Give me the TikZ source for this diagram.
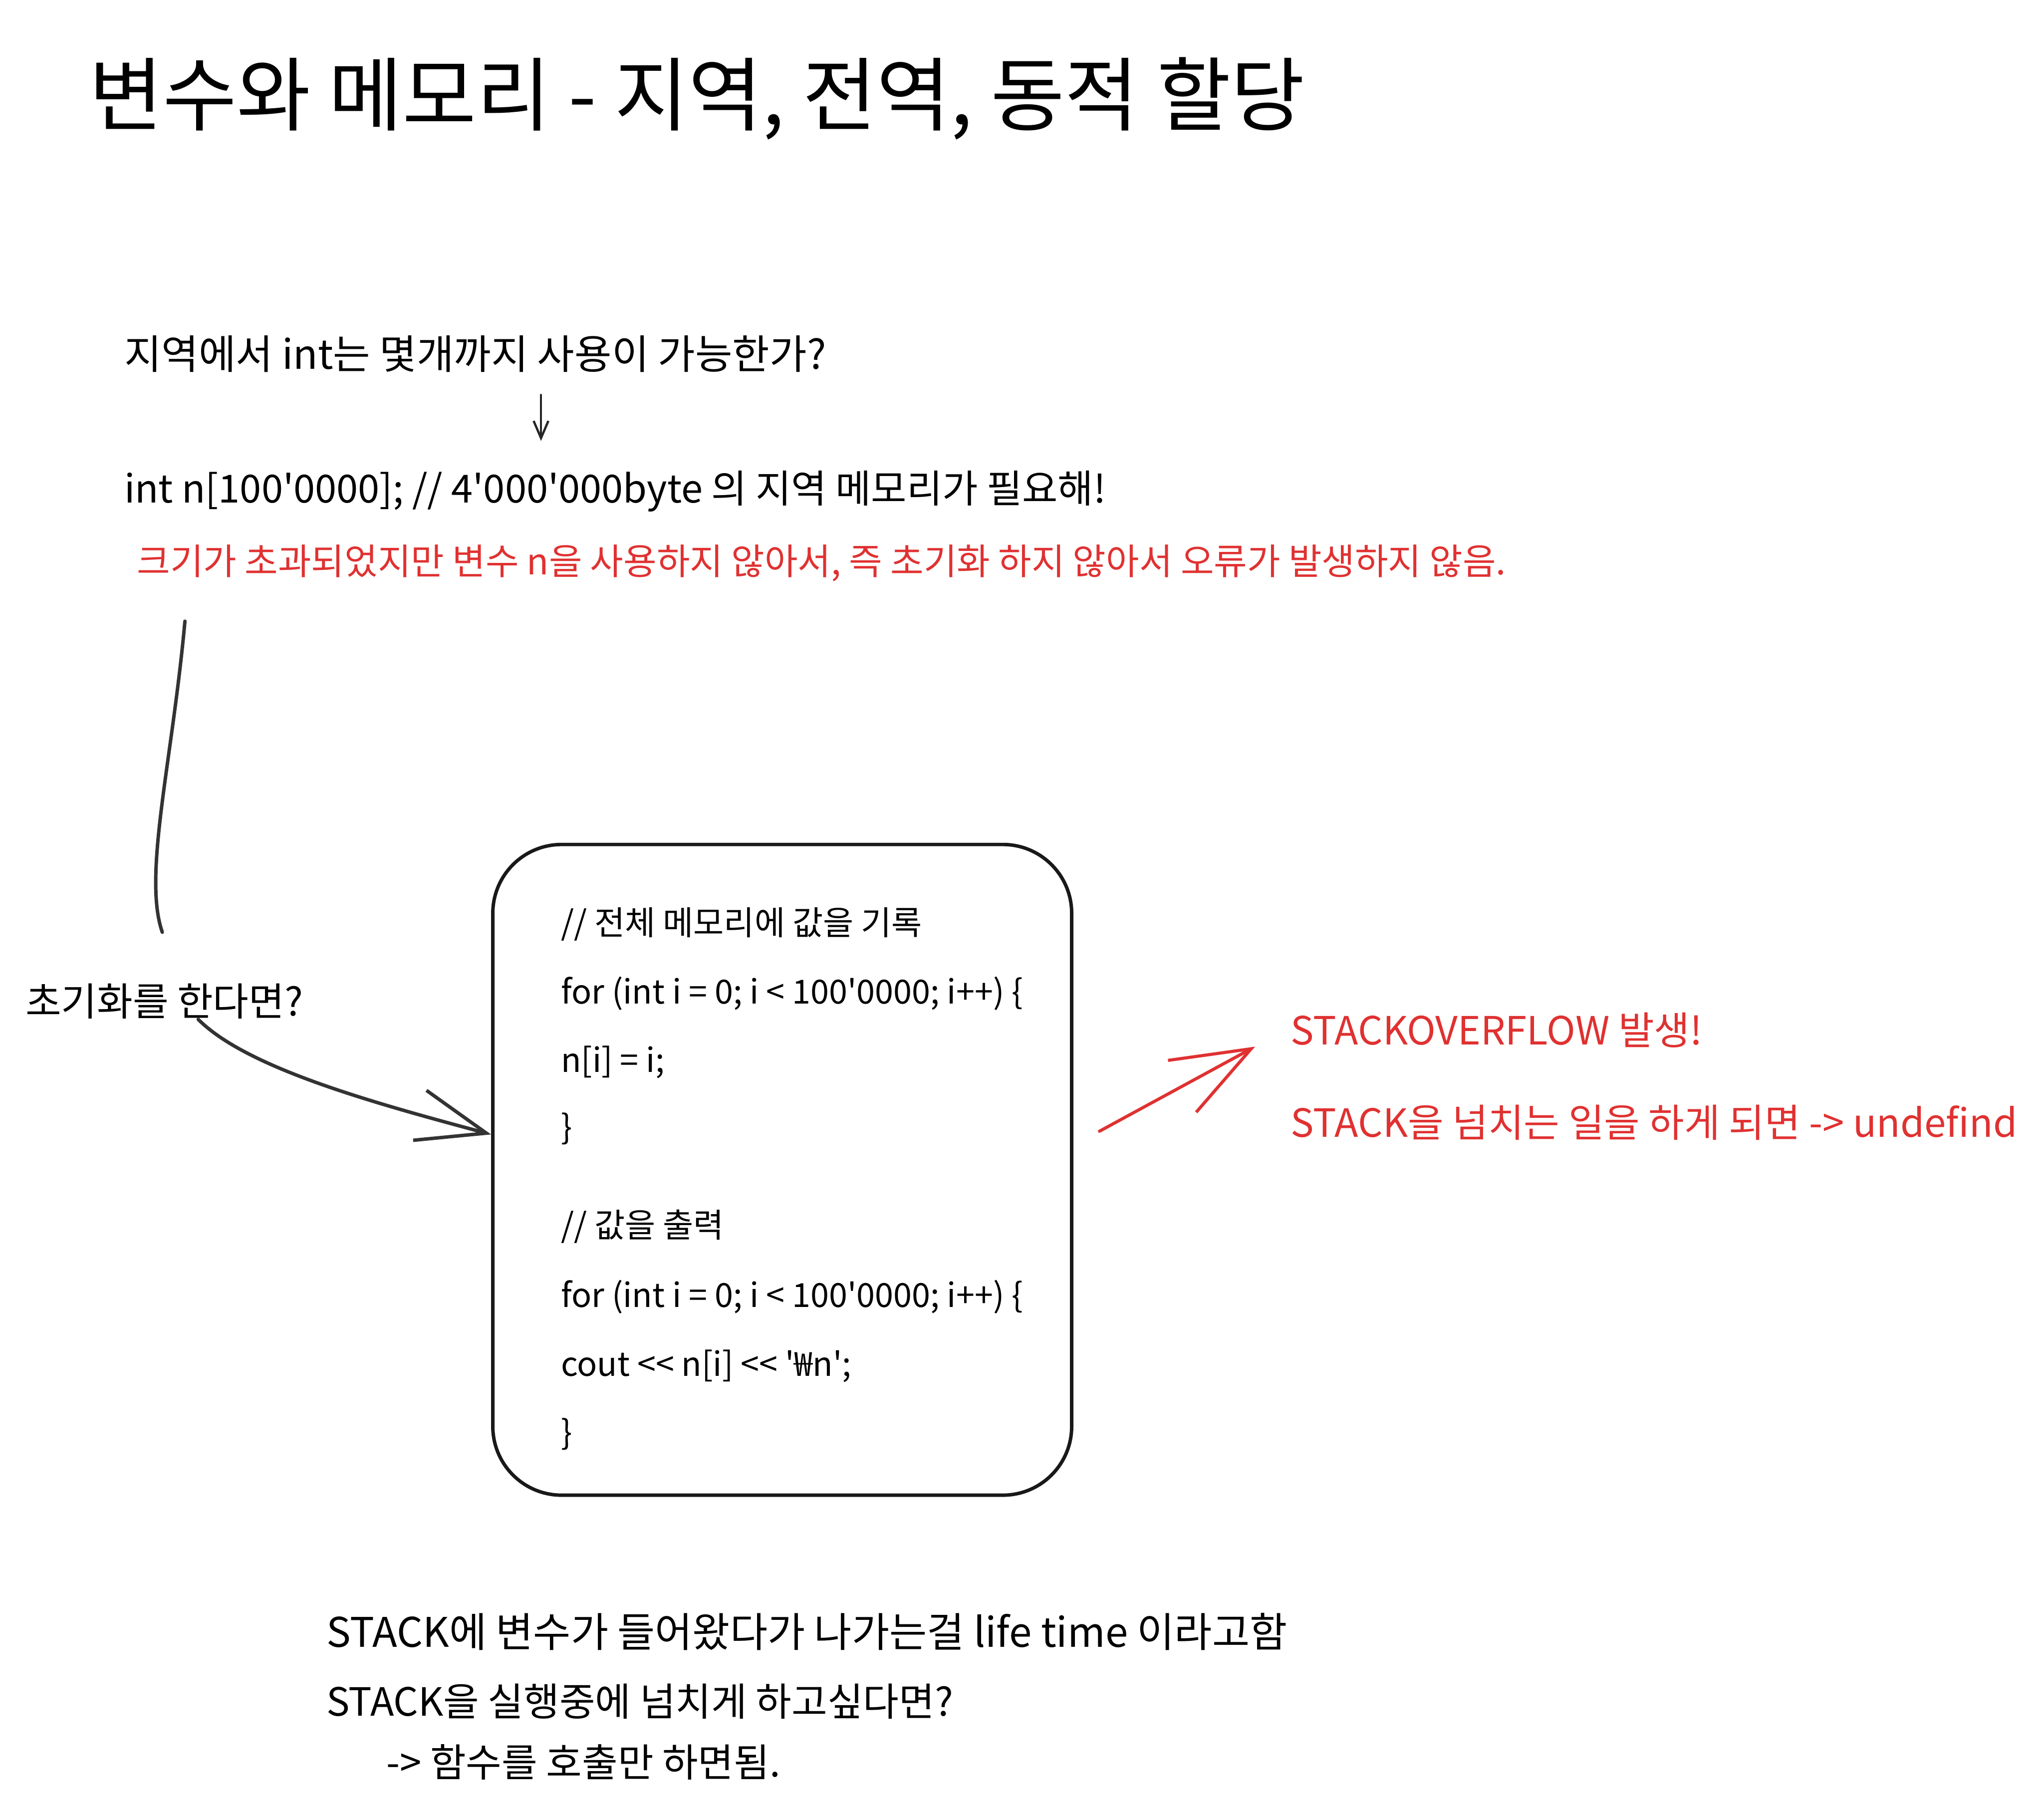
\documentclass[tikz,border=0pt]{standalone}
\usepackage{fontspec}
\newfontfamily\hand{Noto Sans CJK KR}[Ligatures=TeXOff]
\newcommand\handsize[1]{\hand\fontsize{#1}{#1}\selectfont}
\usetikzlibrary{arrows.meta,positioning,calc}
\definecolor{sketchred}{RGB}{224,49,49}

\begin{document}
\begin{tikzpicture}[
        >=Stealth,
        txt/.style={anchor=west, inner sep=0pt, font=\handsize{22.5}},
        headline/.style={txt, font=\handsize{46.5}},
        alert/.style={txt, text=sketchred},
        code/.style={txt, font=\handsize{19.2}},
        memo/.style={draw=black!90, line width=2pt, rounded corners=1.4cm,
            minimum width=11.77cm, minimum height=13.23cm},
        link/.style={draw=black!80, line width=2pt, line cap=round},
        small/.style={draw=black!85, line width=1.3pt, line cap=round,
            -{Straight Barb[length=0.35cm,width=0.3cm]}},
        redlink/.style={draw=sketchred, line width=1.8pt, line cap=round,
            -{Straight Barb[length=1.6cm,width=1.2cm]}}
    ]
        \useasboundingbox (0,0) rectangle (41.56,-36.80);

        \node[headline] (title) at (1.80,-2.00) {변수와 메모리 - 지역, 전역, 동적 할당};

        \node[txt, font=\handsize{23.4}] (ask) at (2.52,-7.20) {지역에서 int는 몇개까지 사용이 가능한가?};
        \node[txt, font=\handsize{22.4}] (decl) at (2.52,-9.99) {int n[100'0000]; // 4'000'000byte 의 지역 메모리가 필요해!};
        \node[alert, font=\handsize{20.9}] (warn) at (2.78,-11.45) {크기가 초과되었지만 변수 n을 사용하지 않아서, 즉 초기화 하지 않아서 오류가 발생하지 않음.};

        \coordinate (mid) at (11.00,0);
        \draw[small, shorten <=0.45cm, shorten >=0.6cm] (ask.south -| mid) -- (decl.north -| mid);

        \node[txt, anchor=center] (init) at (3.34,-20.36) {초기화를 한다면?};

        % code box
        \node[memo] (box) at (15.905,-23.785) {};
        \foreach \y/\s in {18.79/{// 전체 메모리에 값을 기록},
                20.20/{for (int i = 0; i < 100'0000; i++) \{},
                21.60/{n[i] = i;},
                22.95/{\}},
                24.94/{// 값을 출력},
                26.37/{for (int i = 0; i < 100'0000; i++) \{},
                27.78/{cout << n[i] << '₩n';},
                29.16/{\}}}
            \node[code] at (11.40,-\y) {\s};

        \draw[link] ($(warn.south west)+(0.98,-0.8)$) .. controls (3.5,-15.5) and (2.9,-17.8) .. ($(init.north)+(-0.04,1.04)$);
        \draw[link, -{Straight Barb[length=1.4cm,width=1.05cm]}] ($(init.south)+(0.69,0)$) .. controls (5.0,-21.7) and (7.5,-22.4) .. ($(box.west)+(0,0.72)$);

        \node[alert] (over) at (26.24,-20.94) {STACKOVERFLOW 발생!};
        \node[alert] (undef) at (26.24,-22.82) {STACK을 넘치는 일을 하게 되면 -> undefind};
        \draw[redlink] ($(box.east)+(0.53,0.785)$) -- ($(over.west)+(-0.72,-0.34)$);

        \node[txt, font=\handsize{23.6}] (life) at (6.63,-33.18) {STACK에 변수가 들어왔다가 나가는걸 life time 이라고함};
        \node[txt] (want) at (6.63,-34.59) {STACK을 실행중에 넘치게 하고싶다면?};
        \node[txt] (call) at (7.85,-35.83) {-> 함수를 호출만 하면됨.};
    \end{tikzpicture}
\end{document}
